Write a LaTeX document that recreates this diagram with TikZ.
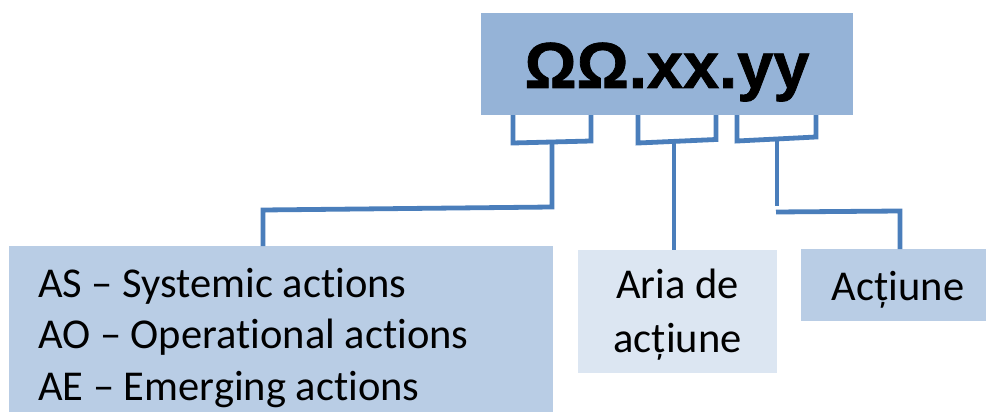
\documentclass[tikz,border=0pt]{standalone}
\usepackage{fontspec}
\setmainfont{Carlito}[Ligatures=NoCommon]
\newfontfamily\codefont{Liberation Sans Bold}[FakeBold=1.2]
\definecolor{topfill}{HTML}{95B3D7}
\definecolor{midfill}{HTML}{B9CDE5}
\definecolor{lightfill}{HTML}{DCE6F2}
\definecolor{linkblue}{HTML}{4A7EBB}
\tikzset{
  boxnode/.style={anchor=north west, inner sep=0pt, draw=none},
  lbl/.style={inner sep=0pt, font=\fontsize{42.5}{50}\selectfont},
  link/.style={draw=linkblue, line width=4.8pt, line join=miter, line cap=butt}
}
\begin{document}
\begin{tikzpicture}[x=1pt,y=-1pt]
\clip (0,0) rectangle (986,412);
\fill[white] (0,0) rectangle (986,412);
% boxes
\node[boxnode, fill=topfill, minimum width=372pt, minimum height=102pt] (code) at (481,13) {};
\node[inner sep=0pt, anchor=base, font=\codefont\fontsize{65}{70}\selectfont] (codetext) at (667,88) {ΩΩ.xx.yy};
\node[boxnode, fill=midfill, minimum width=544pt, minimum height=180pt] (types) at (9,246) {};
\node[lbl, anchor=base west] (as) at (38,297) {AS – Systemic actions};
\node[lbl, anchor=base west] (ao) at (38,348.5) {AO – Operational actions};
\node[lbl, anchor=base west] (ae) at (38,400) {AE – Emerging actions};
\node[boxnode, fill=lightfill, minimum width=199pt, minimum height=123pt] (aria) at (578,250) {};
\node[lbl, anchor=base] (aria1) at (677.5,298) {Aria de};
\node[lbl, anchor=base] (aria2) at (677.5,352) {acțiune};
\node[boxnode, fill=midfill, minimum width=190pt, minimum height=72pt] (act) at (801,249) {};
\node[lbl, anchor=base] (acttext) at (898,300) {Acțiune};
% bracket end points
\coordinate (b1a) at (513,115); \coordinate (b1b) at (591,115);
\coordinate (b2a) at (638,115); \coordinate (b2b) at (716,115);
\coordinate (b3a) at (737,115); \coordinate (b3b) at (816,115);
% brackets
\draw[link] (b1a) -- (513,143) -- (591,141) -- (b1b);
\draw[link] (b2a) -- (638,143) -- (716,139.5) -- (b2b);
\draw[link] (b3a) -- (737,141) -- (816,137) -- (b3b);
% stems
\draw[link] (552,141) -- (552,207) -- (263,210) -- (types.north west -| 263,0);
\draw[link] (674,140) -- (aria.north -| 674,0);
\draw[link] (777,137) -- (777,206);
\draw[link] (776,212) -- (900,211) -- (act.north -| 900,0);
\end{tikzpicture}
\end{document}
